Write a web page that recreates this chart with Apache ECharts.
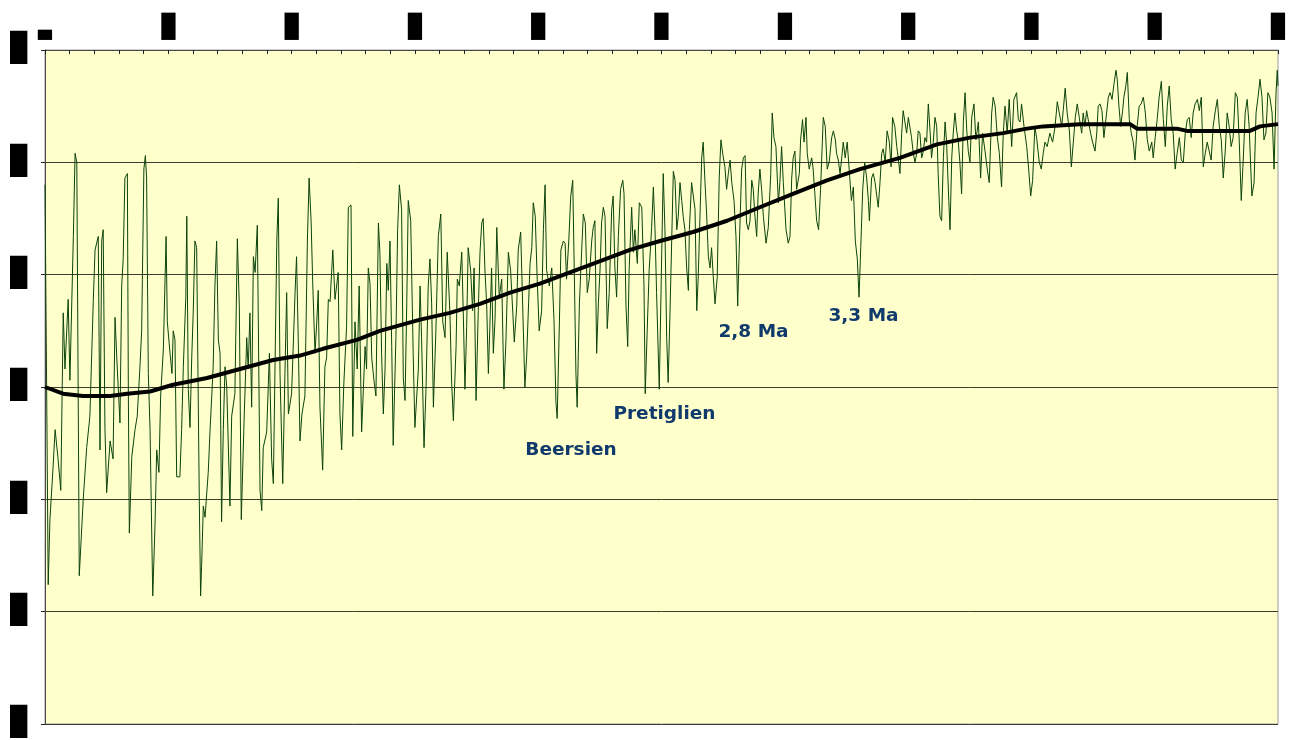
<!DOCTYPE html>
<html><head><meta charset="utf-8">
<script src="https://cdn.jsdelivr.net/npm/echarts@6/dist/echarts.min.js"></script>
<style>html,body{margin:0;padding:0;background:#fff}#c{width:1290px;height:740px}</style>
</head><body><div id="c"></div>
<script>
// Age axis (kyr), top; ticks every 500 kyr
const ageTickLabels = ['▃','█','█','█','█','█','█','█','█','█','█'];
// Value axis (inverted), ticks every 0.5
const valueTickLabels = ['█','█','█','█','█','█','█'];

// Noisy record [age kyr, value]
const benthic = [
[0,3.10],[13,4.88],[20,4.59],[32,4.37],[41,4.19],[53,4.32],[64,4.46],[74,3.67],[81,3.92],[94,3.61],[101,3.97],[115,3.33],[122,2.96],[129,3.00],[139,4.84],[155,4.50],[169,4.27],[182,4.13],[196,3.61],[203,3.39],[216,3.33],[223,4.28],[230,3.35],[236,3.30],[243,4.18],[250,4.47],[264,4.24],[276,4.32],[284,3.69],[291,3.87],[304,4.16],[311,3.55],[317,3.43],[324,3.07],[334,3.05],[338,4.03],[342,4.65],[352,4.31],[365,4.19],[374,4.13],[385,3.91],[392,3.75],[401,3.03],[407,2.97],[412,3.07],[419,3.94],[426,4.19],[437,4.93],[446,4.62],[453,4.28],[462,4.38],[469,4.04],[480,3.83],[491,3.33],[496,3.71],[507,3.85],[515,3.94],[520,3.75],[527,3.79],[534,4.40],[547,4.40],[554,4.19],[561,3.91],[571,3.60],[575,3.24],[581,4.01],[588,4.18],[595,3.87],[601,3.67],[608,3.35],[615,3.38],[626,4.53],[631,4.93],[635,4.80],[642,4.53],[649,4.58],[662,4.38],[669,4.20],[682,3.91],[689,3.55],[696,3.35],[703,3.79],[710,3.85],[716,4.60],[723,4.19],[730,3.91],[737,4.00],[750,4.53],[757,4.13],[770,4.03],[780,3.34],[788,3.64],[796,4.59],[807,4.16],[818,3.78],[824,3.92],[831,3.67],[838,4.09],[845,3.42],[852,3.49],[861,3.28],[872,4.46],[879,4.55],[885,4.27],[899,4.20],[910,3.85],[919,4.32],[926,4.43],[940,3.35],[946,3.16],[953,3.94],[964,4.43],[973,3.94],[980,3.58],[987,4.12],[1000,4.03],[1014,3.58],[1020,3.42],[1027,3.79],[1034,4.24],[1042,4.12],[1054,4.04],[1064,3.35],[1071,3.07],[1079,3.26],[1086,3.55],[1095,3.85],[1102,3.71],[1108,3.57],[1115,4.09],[1126,4.37],[1135,3.91],[1142,3.87],[1149,3.61],[1156,3.62],[1167,3.39],[1176,3.61],[1189,3.49],[1196,4.12],[1203,4.28],[1212,3.98],[1223,3.73],[1230,3.20],
[1241,3.19],[1248,4.22],[1257,3.71],[1266,3.92],[1274,3.55],[1284,4.20],[1298,3.82],[1304,3.92],[1311,3.47],[1318,3.54],[1325,3.87],[1334,3.97],[1342,4.04],[1352,3.27],[1358,3.40],[1365,3.85],[1372,4.12],[1379,3.92],[1386,3.45],[1392,3.57],[1399,3.35],[1406,3.82],[1412,4.26],[1423,3.78],[1430,3.30],[1437,3.10],[1446,3.21],[1453,3.96],[1460,4.06],[1467,3.63],[1473,3.17],[1483,3.26],[1493,3.85],[1500,4.18],[1514,3.92],[1521,3.55],[1527,3.78],[1537,4.27],[1545,4.01],[1554,3.55],[1561,3.43],[1568,3.63],[1575,4.09],[1585,3.75],[1595,3.33],[1605,3.23],[1613,3.71],[1622,3.78],[1631,3.40],[1642,3.67],[1649,3.98],[1656,4.15],[1667,3.82],[1672,3.52],[1680,3.55],[1690,3.40],[1696,3.66],[1703,4.01],[1710,3.73],[1716,3.38],[1726,3.48],[1734,3.66],[1740,3.47],[1748,4.06],[1757,3.66],[1764,3.40],[1771,3.27],[1777,3.25],[1784,3.48],[1791,3.63],[1798,3.94],[1804,3.73],[1811,3.47],[1818,3.85],[1825,3.70],[1832,3.29],[1842,3.60],[1852,3.52],[1861,4.01],[1869,3.80],[1879,3.40],[1888,3.48],[1897,3.67],[1903,3.80],[1913,3.64],[1919,3.39],[1929,3.31],[1937,3.31],[1946,4.00],[1953,3.87],[1961,3.63],[1967,3.45],[1974,3.38],[1980,3.18],[1988,3.24],[1996,3.52],[2004,3.75],[2014,3.66],[2021,3.30],[2028,3.10],[2034,3.48],[2045,3.55],[2055,3.47],[2064,3.70],[2072,4.07],[2077,4.14],[2086,3.71],[2092,3.39],[2102,3.35],[2109,3.36],[2115,3.52],[2124,3.35],[2132,3.15],[2140,3.08],[2145,3.40],[2153,3.94],[2158,4.09],[2167,3.63],[2176,3.40],[2183,3.23],[2191,3.27],[2199,3.58],[2207,3.52],[2217,3.35],[2223,3.29],[2230,3.26],[2237,3.85],[2244,3.63],[2251,3.47],[2257,3.27],[2264,3.20],[2271,3.24],[2280,3.74],[2288,3.58],[2298,3.21],[2304,3.15],[2311,3.47],[2318,3.60],[2325,3.33],[2334,3.12],[2343,3.08],[2348,3.14],[2356,3.64],[2363,3.82],[2369,3.47],[2379,3.20],[2386,3.40],[2392,3.30],[2402,3.45],[2410,3.18],[2420,3.20],[2429,3.55],[2434,4.03],[2442,3.75],[2450,3.48],[2460,3.29],[2467,3.11],[2474,3.31],[2480,3.58],[2491,4.01],[2501,3.40],[2507,3.05],[2514,3.30],[2521,3.78],[2527,3.98],
[2534,3.69],[2548,3.04],[2555,3.08],[2562,3.30],[2568,3.24],[2575,3.09],[2582,3.17],[2588,3.24],[2595,3.30],[2602,3.47],[2609,3.57],[2613,3.30],[2622,3.09],[2629,3.09],[2636,3.21],[2643,3.66],[2649,3.51],[2656,3.24],[2663,2.98],[2669,2.91],[2676,3.08],[2683,3.23],[2690,3.42],[2697,3.47],[2703,3.38],[2710,3.51],[2717,3.63],[2726,3.51],[2734,3.07],[2741,2.90],[2748,2.96],[2757,3.02],[2764,3.12],[2771,3.05],[2778,2.99],[2785,3.09],[2794,3.17],[2802,3.33],[2809,3.64],[2815,3.39],[2825,3.03],[2832,2.98],[2839,2.97],[2845,3.27],[2852,3.30],[2859,3.26],[2866,3.08],[2872,3.12],[2879,3.24],[2886,3.33],[2892,3.14],[2899,3.03],[2906,3.12],[2913,3.24],[2924,3.36],[2933,3.29],[2943,3.05],[2949,2.78],[2956,2.89],[2964,2.93],[2974,3.18],[2980,3.09],[2987,2.93],[2994,3.09],[3005,3.30],[3014,3.36],[3021,3.33],[3028,3.07],[3034,2.98],[3041,2.95],[3048,3.12],[3059,3.05],[3064,2.90],[3072,2.81],[3078,2.91],[3086,2.80],[3091,2.96],[3099,3.03],[3109,2.98],[3115,3.03],[3122,3.14],[3129,3.26],[3137,3.30],[3145,3.12],[3156,2.80],[3164,2.84],[3172,3.03],[3180,3.00],[3190,2.89],[3197,2.86],[3205,2.90],[3210,2.96],[3217,2.99],[3224,3.05],[3231,2.98],[3237,2.91],[3245,2.98],[3253,2.91],[3261,3.03],[3270,3.17],[3278,3.11],[3286,3.35],[3294,3.43],[3301,3.60],[3308,3.38],[3316,3.12],[3324,3.00],[3332,3.07],[3339,3.17],[3343,3.26],[3352,3.07],[3359,3.05],[3366,3.09],[3373,3.15],[3379,3.20],[3386,3.09],[3393,2.96],[3399,2.94],[3407,3.00],[3415,2.86],[3424,2.91],[3431,3.02],[3437,2.80],[3446,2.84],[3454,2.93],[3460,2.98],[3467,3.05],[3474,2.87],[3480,2.77],[3487,2.82],[3494,2.87],[3501,2.80],[3508,2.80],[3514,2.89],[3521,2.96],[3528,3.00],[3535,2.96],[3541,2.86],[3548,2.87],[3555,2.98],[3562,2.95],[3568,2.89],[3575,2.91],[3582,2.74],[3589,2.86],[3595,2.98],[3602,2.91],[3609,2.80],[3616,2.84],[3622,3.05],[3629,3.24],[3636,3.26],[3643,2.98],[3650,2.82],[3656,2.91],[3665,3.17],[3670,3.30],[3677,2.98],[3683,2.87],[3690,2.78],[3697,2.86],[3703,2.90],[3710,3.00],[3717,3.14],[3724,2.82],[3731,2.69],[3738,2.86],[3744,2.95],
[3751,3.00],[3758,2.80],[3767,2.74],[3775,2.90],[3785,2.82],[3794,3.07],[3802,2.87],[3812,2.95],[3821,3.03],[3829,3.09],[3839,2.78],[3845,2.71],[3853,2.75],[3862,2.89],[3870,2.96],[3879,3.11],[3886,2.87],[3893,2.75],[3902,2.87],[3910,2.72],[3920,2.93],[3929,2.72],[3940,2.69],[3947,2.81],[3954,2.82],[3960,2.74],[3970,2.84],[3981,2.93],[3989,3.03],[3997,3.15],[4005,3.08],[4014,2.84],[4021,2.89],[4032,3.00],[4040,3.03],[4048,2.96],[4055,2.91],[4064,2.93],[4075,2.87],[4086,2.91],[4096,2.84],[4105,2.73],[4113,2.78],[4123,2.84],[4129,2.77],[4137,2.67],[4145,2.78],[4154,2.86],[4162,3.02],[4170,2.91],[4178,2.80],[4186,2.74],[4194,2.80],[4204,2.87],[4210,2.78],[4217,2.84],[4224,2.77],[4232,2.82],[4240,2.87],[4248,2.91],[4258,2.95],[4265,2.87],[4271,2.75],[4278,2.74],[4286,2.77],[4294,2.89],[4302,2.89],[4312,2.71],[4319,2.69],[4327,2.72],[4335,2.65],[4343,2.59],[4348,2.63],[4355,2.75],[4362,2.84],[4370,2.77],[4375,2.71],[4383,2.66],[4389,2.60],[4397,2.81],[4405,2.87],[4413,2.91],[4420,2.99],[4429,2.84],[4437,2.75],[4445,2.74],[4454,2.71],[4462,2.78],[4470,2.90],[4478,2.95],[4488,2.91],[4494,2.98],[4502,2.89],[4510,2.81],[4518,2.71],[4527,2.64],[4535,2.81],[4543,2.93],[4551,2.75],[4559,2.66],[4567,2.81],[4575,2.87],[4583,3.03],[4591,2.96],[4600,2.89],[4608,2.99],[4616,3.00],[4624,2.87],[4632,2.81],[4640,2.80],[4648,2.89],[4656,2.78],[4664,2.74],[4673,2.72],[4681,2.77],[4689,2.71],[4697,3.02],[4705,2.96],[4713,2.91],[4721,2.95],[4729,2.99],[4737,2.84],[4746,2.77],[4754,2.72],[4762,2.84],[4770,2.90],[4778,3.07],[4786,2.95],[4794,2.78],[4802,2.84],[4810,2.93],[4818,2.89],[4827,2.69],[4835,2.71],[4843,2.91],[4851,3.17],[4859,2.99],[4867,2.78],[4875,2.72],[4883,2.84],[4894,3.15],[4903,3.09],[4911,2.78],[4919,2.71],[4927,2.63],[4935,2.71],[4943,2.90],[4951,2.87],[4959,2.69],[4967,2.71],[4976,2.78],[4984,3.03],[4992,2.69],[4997,2.59],[5000,2.66]
];

// Long-term trend [age kyr, value]
const trend = [[0,4.00],[73,4.03],[154,4.04],[264,4.04],[333,4.03],[426,4.02],[519,3.99],[657,3.96],[791,3.92],[925,3.88],[1034,3.86],[1127,3.83],[1265,3.79],[1358,3.75],[1521,3.70],[1642,3.67],[1764,3.63],[1886,3.58],[2007,3.54],[2129,3.49],[2251,3.44],[2372,3.39],[2494,3.35],[2628,3.31],[2766,3.26],[2899,3.20],[3033,3.14],[3171,3.08],[3305,3.03],[3467,2.98],[3617,2.92],[3751,2.89],[3885,2.87],[3982,2.85],[4047,2.84],[4197,2.83],[4400,2.83],[4428,2.85],[4590,2.85],[4631,2.86],[4886,2.86],[4927,2.84],[5000,2.83]];

// Annotations
const annotationNames = ['Beersien','Pretiglien','2,8 Ma','3,3 Ma'];
const annotationAges = [2133, 2512, 2873, 3319];
const annotationValues = [4.28, 4.12, 3.755, 3.686];

const chart = echarts.init(document.getElementById('c'), null, {renderer:'canvas'});
const tickFont = 'DejaVu Sans Mono';
chart.setOption({
  animation: false,
  backgroundColor: '#ffffff',
  grid: {left:45, right:12, top:50, bottom:16, show:true, backgroundColor:'#FFFFCC', borderColor:'#9a9a9a', borderWidth:1},
  xAxis: {
    type:'value', position:'top', min:0, max:5000, interval:500,
    axisLine:{show:true, onZero:false, lineStyle:{color:'#4a4a4a', width:1}},
    axisTick:{show:true, inside:true, length:4, lineStyle:{color:'#222'}},
    minorTick:{show:true, splitNumber:5, length:4, lineStyle:{color:'#222'}},
    splitLine:{show:false},
    axisLabel:{show:true, margin:10, showMinLabel:true, showMaxLabel:true,
      formatter:(v)=>ageTickLabels[Math.round(v/500)],
      fontFamily:tickFont, fontSize:23, color:'#000'}
  },
  yAxis: {
    type:'value', inverse:true, min:2.5, max:5.5, interval:0.5,
    axisLine:{show:true, onZero:false, lineStyle:{color:'#4a4a4a', width:1}},
    axisTick:{show:true, inside:false, length:4, lineStyle:{color:'#222'}},
    splitLine:{show:true, lineStyle:{color:'#3c3c30', width:1}},
    axisLabel:{show:true, margin:18, showMinLabel:true, showMaxLabel:true,
      formatter:(v)=>valueTickLabels[Math.round((v-2.5)/0.5)],
      fontFamily:tickFont, fontSize:28, color:'#000'}
  },
  series: [
    {type:'line', data:benthic, symbol:'none', lineStyle:{color:'#0c440c', width:1}, z:2},
    {type:'line', data:trend, symbol:'none', lineStyle:{color:'#000', width:4}, z:3},
    {type:'scatter', symbolSize:0, z:4, itemStyle:{opacity:1},
      data: annotationNames.map((n,i)=>({name:n, value:[annotationAges[i], annotationValues[i]]})),
      label:{show:true, position:'inside', formatter:'{b}', fontFamily:'DejaVu Sans', fontWeight:'bold', fontSize:18.5, color:'#0f3a6b', textBorderWidth:0, opacity:1}}
  ]
});
</script>
</body></html>
